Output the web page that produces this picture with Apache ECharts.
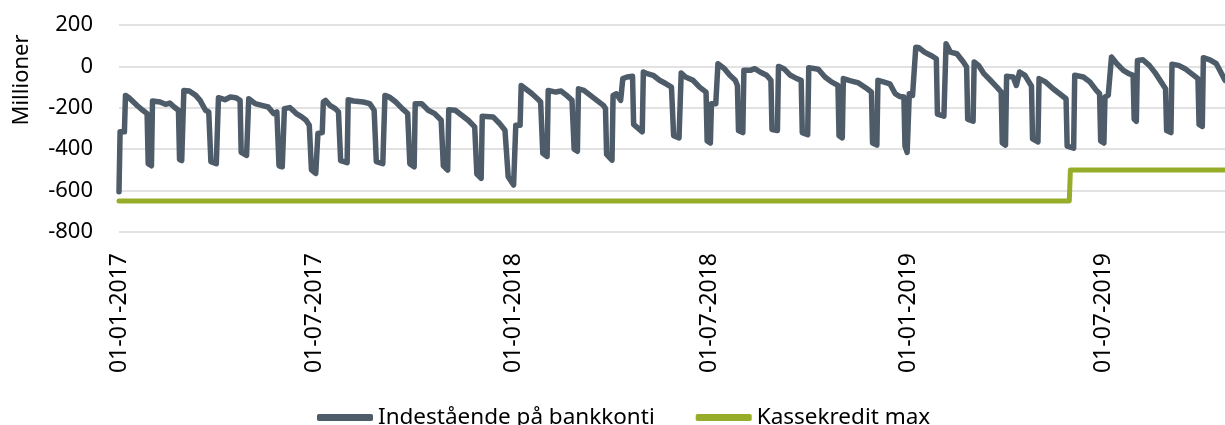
<!DOCTYPE html>
<html>
<head>
<meta charset="utf-8">
<title>Indestående på bankkonti</title>
<script src="https://cdn.jsdelivr.net/npm/echarts@6/dist/echarts.min.js"></script>
<style>
  html, body { margin: 0; padding: 0; background: #fff; }
  #chart { width: 1225px; height: 425px; }
</style>
</head>
<body>
<div id="chart"></div>
<script>
// tick labels on the date axis
var tickDates = ['2017-01-01', '2017-07-01', '2018-01-01', '2018-07-01', '2019-01-01', '2019-07-01'];
var yTicks = [-800, -600, -400, -200, 0, 200];

// Indestående på bankkonti (mio.)
var dates2017 = ['2017-01-01','2017-01-02','2017-01-06','2017-01-07','2017-01-10','2017-01-18','2017-01-23','2017-01-27','2017-01-28','2017-01-31',
  '2017-02-01','2017-02-08','2017-02-13','2017-02-17','2017-02-21','2017-02-25','2017-02-26','2017-02-28',
  '2017-03-01','2017-03-02','2017-03-07','2017-03-13','2017-03-17','2017-03-22','2017-03-25','2017-03-27','2017-04-01',
  '2017-04-03','2017-04-09','2017-04-14','2017-04-19','2017-04-23','2017-04-24','2017-04-29',
  '2017-05-01','2017-05-07','2017-05-13','2017-05-19','2017-05-24','2017-05-27','2017-05-29','2017-06-01',
  '2017-06-03','2017-06-08','2017-06-14','2017-06-19','2017-06-23','2017-06-26','2017-06-28','2017-07-02',
  '2017-07-04','2017-07-08','2017-07-09','2017-07-11','2017-07-15','2017-07-20','2017-07-23','2017-07-25','2017-07-31',
  '2017-08-01','2017-08-06','2017-08-15','2017-08-21','2017-08-25','2017-08-27','2017-09-02',
  '2017-09-04','2017-09-08','2017-09-14','2017-09-20','2017-09-25','2017-09-27','2017-10-01',
  '2017-10-02','2017-10-08','2017-10-14','2017-10-20','2017-10-26','2017-10-28','2017-11-01',
  '2017-11-02','2017-11-08','2017-11-14','2017-11-20','2017-11-26','2017-11-28','2017-12-02',
  '2017-12-03','2017-12-04','2017-12-13','2017-12-19','2017-12-24','2017-12-27'];
var values2017 = [-605,-316,-316,-140,-150,-190,-212,-228,-470,-480,
  -167,-172,-183,-177,-196,-212,-450,-455,
  -450,-116,-119,-140,-164,-212,-220,-460,-470,
  -151,-161,-148,-151,-164,-415,-430,
  -156,-180,-188,-196,-228,-220,-480,-485,
  -204,-199,-228,-244,-260,-284,-500,-517,
  -324,-320,-172,-164,-188,-204,-220,-455,-465,
  -161,-167,-172,-180,-212,-460,-470,
  -140,-148,-172,-204,-228,-470,-485,
  -180,-180,-212,-228,-260,-480,-501,
  -209,-212,-236,-260,-292,-520,-541,
  -241,-236,-244,-276,-308,-533];

var dates2018 = ['2018-01-01','2018-01-02','2018-01-03','2018-01-07','2018-01-08','2018-01-12','2018-01-18','2018-01-23','2018-01-26','2018-01-28','2018-02-01',
  '2018-02-02','2018-02-09','2018-02-14','2018-02-19','2018-02-24','2018-02-26','2018-03-01',
  '2018-03-02','2018-03-07','2018-03-13','2018-03-19','2018-03-25','2018-03-27','2018-03-28','2018-04-02',
  '2018-04-03','2018-04-06','2018-04-10','2018-04-12','2018-04-16','2018-04-21','2018-04-22','2018-04-30',
  '2018-05-01','2018-05-03','2018-05-10','2018-05-16','2018-05-22','2018-05-27','2018-05-29','2018-06-03',
  '2018-06-05','2018-06-09','2018-06-16','2018-06-22','2018-06-28','2018-06-29','2018-07-02',
  '2018-07-03','2018-07-07','2018-07-09','2018-07-15','2018-07-20','2018-07-25','2018-07-27','2018-07-28','2018-08-01',
  '2018-08-02','2018-08-08','2018-08-12','2018-08-17','2018-08-23','2018-08-27','2018-08-28','2018-09-02',
  '2018-09-03','2018-09-08','2018-09-14','2018-09-20','2018-09-24','2018-09-25','2018-09-30',
  '2018-10-01','2018-10-07','2018-10-10','2018-10-16','2018-10-22','2018-10-28','2018-10-29','2018-11-01',
  '2018-11-02','2018-11-08','2018-11-16','2018-11-24','2018-11-28','2018-11-29','2018-12-03',
  '2018-12-04','2018-12-09','2018-12-15','2018-12-20','2018-12-24','2018-12-28','2018-12-29','2018-12-31'];
var values2018 = [-573,-573,-284,-284,-92,-108,-132,-156,-172,-420,-435,
  -116,-124,-119,-140,-164,-400,-410,
  -108,-116,-140,-164,-188,-204,-425,-453,
  -140,-132,-164,-59,-51,-48,-280,-316,
  -27,-32,-43,-67,-84,-100,-335,-345,
  -32,-51,-67,-100,-124,-360,-370,
  -180,-180,13,-11,-43,-67,-92,-310,-320,
  -19,-19,-11,-27,-43,-67,-305,-310,
  0,-11,-43,-59,-67,-320,-330,
  -6,-11,-15,-51,-75,-92,-335,-345,
  -59,-69,-80,-108,-124,-370,-380,
  -67,-75,-84,-132,-145,-148,-385,-415];

var dates2019 = ['2019-01-01','2019-01-02','2019-01-05','2019-01-08','2019-01-11','2019-01-16','2019-01-22','2019-01-27','2019-01-28','2019-02-03',
  '2019-02-05','2019-02-09','2019-02-15','2019-02-21','2019-02-24','2019-02-25','2019-03-02',
  '2019-03-03','2019-03-07','2019-03-12','2019-03-18','2019-03-24','2019-03-28','2019-03-29','2019-04-01',
  '2019-04-02','2019-04-08','2019-04-11','2019-04-14','2019-04-19','2019-04-25','2019-04-26','2019-05-01',
  '2019-05-02','2019-05-08','2019-05-15','2019-05-21','2019-05-27','2019-05-28','2019-06-03',
  '2019-06-04','2019-06-12','2019-06-18','2019-06-24','2019-06-27','2019-06-28','2019-07-01',
  '2019-07-02','2019-07-05','2019-07-08','2019-07-13','2019-07-19','2019-07-24','2019-07-28','2019-07-29','2019-07-31',
  '2019-08-01','2019-08-06','2019-08-12','2019-08-18','2019-08-24','2019-08-27','2019-08-28','2019-09-01',
  '2019-09-02','2019-09-08','2019-09-14','2019-09-20','2019-09-26','2019-09-27','2019-09-30',
  '2019-10-01','2019-10-07','2019-10-13','2019-10-21'];
var values2019 = [-421,-132,-140,93,90,69,53,37,-230,-240,
  109,69,61,21,-3,-255,-265,
  21,5,-35,-67,-100,-124,-370,-380,
  -48,-51,-92,-27,-43,-95,-350,-365,
  -59,-75,-108,-132,-156,-385,-395,
  -43,-51,-75,-116,-132,-360,-370,
  -148,-140,45,13,-19,-35,-43,-255,-265,
  29,32,5,-35,-84,-108,-310,-320,
  10,5,-11,-35,-59,-280,-290,
  42,32,13,-67];

// Kassekredit max
var creditDates = ['2017-01-01', '2019-05-30', '2019-05-31', '2019-10-21'];
var creditValues = [-650, -650, -500, -500];

function ts(s) {
  var p = s.split('-');
  return Date.UTC(+p[0], +p[1] - 1, +p[2]);
}
function pairs(d, v) {
  return d.map(function (x, i) { return [ts(x), v[i]]; });
}
var balanceData = pairs(dates2017, values2017)
  .concat(pairs(dates2018, values2018))
  .concat(pairs(dates2019, values2019));
var creditData = pairs(creditDates, creditValues);

var font = 'Noto Sans';
var chart = echarts.init(document.getElementById('chart'), null, { renderer: 'canvas' });

var option = {
  animation: false,
  grid: {
    left: 119,
    right: 0,
    top: 25,
    bottom: 193,
    outerBoundsMode: 'none'
  },
  legend: {
    left: 312,
    top: 401,
    itemWidth: 56,
    itemHeight: 7,
    itemGap: 41,
    icon: 'roundRect',
    textStyle: { fontFamily: font, fontSize: 22.5, color: '#000' },
    data: ['Indestående på bankkonti', 'Kassekredit max']
  },
  graphic: [{
    type: 'text',
    x: 22,
    y: 80,
    rotation: Math.PI / 2,
    style: {
      text: 'Millioner',
      fontFamily: font,
      fontSize: 22,
      fill: '#000',
      align: 'center',
      verticalAlign: 'middle'
    }
  }],
  xAxis: {
    type: 'value',
    min: ts('2017-01-01'),
    max: ts('2019-10-21'),
    axisLine: { show: false },
    axisTick: { show: false },
    splitLine: { show: false },
    axisLabel: {
      customValues: tickDates.map(ts),
      rotate: 90,
      margin: 21,
      fontFamily: font,
      fontSize: 23,
      color: '#000',
      formatter: function (val) {
        var d = new Date(val);
        var dd = ('0' + d.getUTCDate()).slice(-2);
        var mm = ('0' + (d.getUTCMonth() + 1)).slice(-2);
        return dd + '-' + mm + '-' + d.getUTCFullYear();
      }
    }
  },
  yAxis: {
    type: 'value',
    min: yTicks[0],
    max: yTicks[yTicks.length - 1],
    interval: 200,
    axisLine: { show: false },
    axisTick: { show: false },
    axisLabel: { fontFamily: font, fontSize: 22, color: '#000', margin: 26 },
    splitLine: { lineStyle: { color: '#d9d9d9', width: 1.5 } }
  },
  series: [
    {
      name: 'Indestående på bankkonti',
      type: 'line',
      data: balanceData,
      showSymbol: false,
      color: '#4e5b69',
      lineStyle: { width: 5.5, join: 'round', cap: 'round' }
    },
    {
      name: 'Kassekredit max',
      type: 'line',
      data: creditData,
      showSymbol: false,
      color: '#95ad28',
      lineStyle: { width: 5, join: 'round', cap: 'round' }
    }
  ]
};

chart.setOption(option);
</script>
</body>
</html>
